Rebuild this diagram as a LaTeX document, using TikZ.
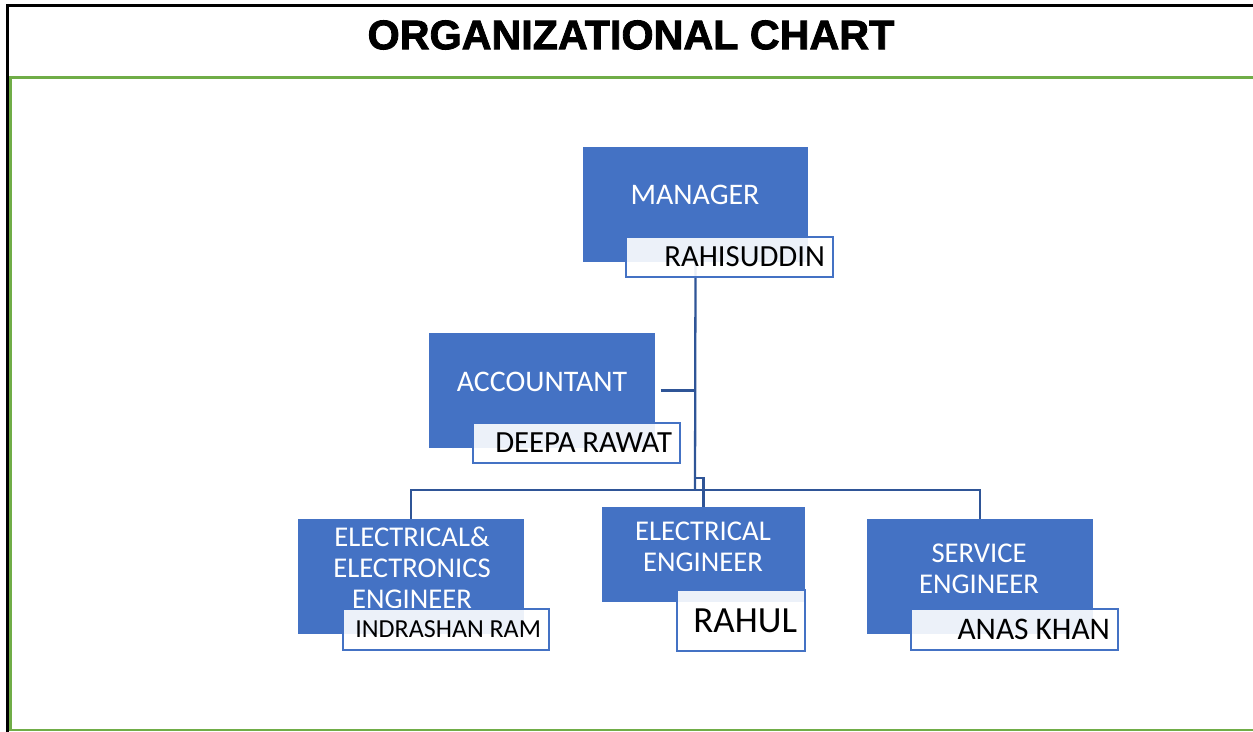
\documentclass[tikz,border=0pt]{standalone}
\usepackage{fontspec}
\setmainfont{Carlito}
\newfontfamily\titlefont{Liberation Sans}[UprightFont=* Bold, UprightFeatures={FakeBold=2}]
\definecolor{roleblue}{HTML}{4472C4}
\definecolor{lineblue}{HTML}{2F5597}
\definecolor{framegreen}{HTML}{70AD47}
\begin{document}
\begin{tikzpicture}[x=0.02cm,y=-0.02cm]
		\tikzset{role/.style = {shape=rectangle, fill=roleblue, inner sep=0pt}}
		\tikzset{roletext/.style = {text=white, align=center, inner sep=0pt, font=\fontsize{17}{17.6}\selectfont}}
		\tikzset{namebox/.style = {shape=rectangle, draw=roleblue, line width=1.1pt, fill=white, fill opacity=0.9, text opacity=1, align=right, inner xsep=4.5pt, inner ysep=0pt, font=\fontsize{17.5}{18}\selectfont, execute at begin node={\spaceskip=0.22em\relax}}}
		\tikzset{conn/.style = {draw=lineblue, line width=1.3pt}}

		\useasboundingbox (0,0) rectangle (1253,732);

		%frame
		\draw[line width=1.2pt] (7.5,732) -- (7.5,5.5) -- (1253,5.5);
		\draw[framegreen, line width=1.7pt] (1253,77.5) -- (10.5,77.5) -- (10.5,730) -- (1253,730);
		\node[font=\titlefont\fontsize{23.5}{24}\selectfont] (T) at (631,35) {ORGANIZATIONAL CHART};

		%role boxes
		\node[role, minimum width=4.5cm, minimum height=2.3cm] (R_1) at (695.5,204.5) {};
		\node[role, minimum width=4.52cm, minimum height=2.3cm] (R_2) at (542,390.5) {};
		\node[role, minimum width=4.52cm, minimum height=2.3cm] (R_3) at (411,576.5) {};
		\node[role, minimum width=4.06cm, minimum height=1.9cm] (R_4) at (703.5,554.5) {};
		\node[role, minimum width=4.52cm, minimum height=2.3cm] (R_5) at (980,576.5) {};

		\coordinate (B) at (695,490);
		\coordinate (C) at (695,478);

		%connectors
		\draw[conn] (R_1.south) -- (B);
		\draw[conn] ([xshift=3pt]R_2.east) -- (R_2.east -| B);
		\draw[conn] (R_3.north) |- (B) -| (R_5.north);
		\draw[conn] (C) -| (R_4.north);

		\node[roletext] (L_1) at (695,195) {MANAGER};
		\node[roletext] (L_2) at (542,382) {ACCOUNTANT};
		\node[roletext, font=\fontsize{16.3}{17.6}\selectfont] (L_3) at (412,568) {ELECTRICAL\&\\ELECTRONICS\\ENGINEER};
		\node[roletext, font=\fontsize{16.3}{17.6}\selectfont] (L_4) at (703,547) {ELECTRICAL\\ENGINEER};
		\node[roletext, font=\fontsize{16.3}{17.6}\selectfont] (L_5) at (979,569) {SERVICE\\ENGINEER};

		%names
		\node[namebox, minimum width=4.14cm, text width=3.82cm, minimum height=0.8cm] (N_1) at (729.5,257) {RAHISUDDIN};
		\node[namebox, minimum width=4.14cm, text width=3.82cm, minimum height=0.8cm] (N_2) at (576.5,443) {DEEPA RAWAT};
		\node[namebox, minimum width=4.12cm, text width=3.80cm, minimum height=0.82cm, font=\fontsize{14.8}{16}\selectfont] (N_3) at (446,629.5) {INDRASHAN RAM};
		\node[namebox, minimum width=2.56cm, text width=2.24cm, minimum height=1.22cm, font=\fontsize{21}{22}\selectfont] (N_4) at (741,620.5) {RAHUL};
		\node[namebox, minimum width=4.14cm, text width=3.82cm, minimum height=0.82cm, font=\fontsize{17.9}{19}\selectfont] (N_5) at (1014.5,629.5) {ANAS KHAN};

	\end{tikzpicture}
\end{document}
